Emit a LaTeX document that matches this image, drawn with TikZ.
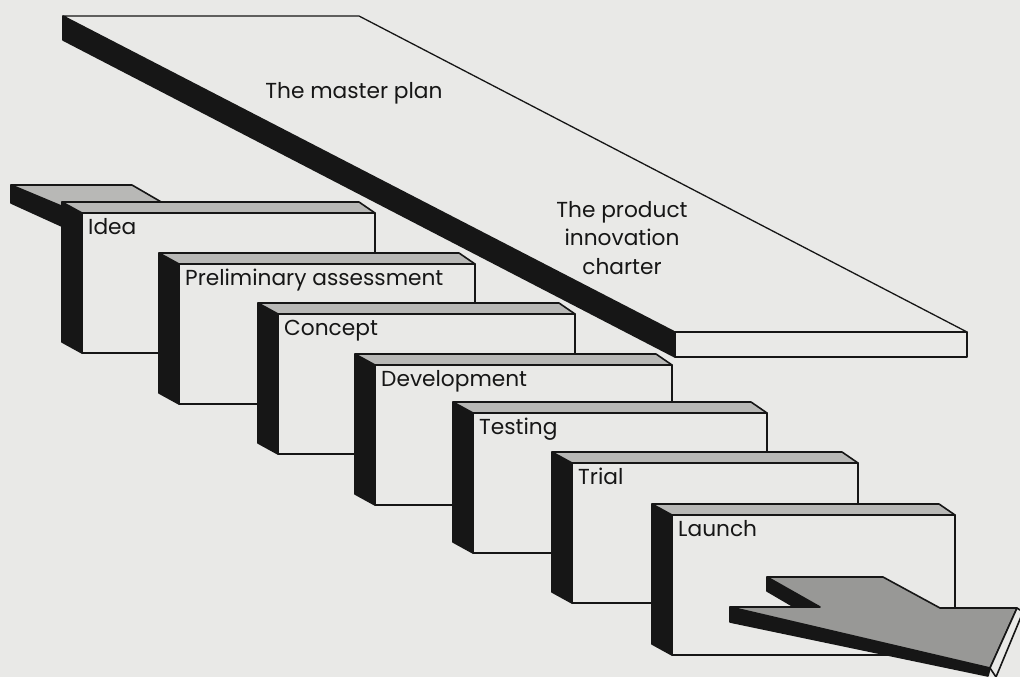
\documentclass[tikz,border=0pt]{standalone}
\usepackage{fontspec}
\setmainfont{Poppins}
\usetikzlibrary{calc}
\definecolor{paper}{RGB}{233,233,231}
\definecolor{ink}{RGB}{22,22,22}
\definecolor{dots}{RGB}{184,184,182}
\definecolor{arrowgray}{RGB}{152,152,150}

\begin{document}
\begin{tikzpicture}[x=1pt,y=-1pt,line join=round,
	outline/.style={draw=ink,line width=1.6pt},
	darkside/.style={outline,fill=ink},
	strip/.style={outline,fill=dots},
	face/.style={outline,fill=paper},
	lbl/.style={font=\fontsize{21.7}{28.5}\selectfont,text=ink,inner sep=0pt}]
	\fill[paper] (0,0) rectangle (1020,677);
	\useasboundingbox (0,0) rectangle (1020,677);
	
	% the master plan board
	\draw[darkside] (63,16) -- (675,332) -- (675,357) -- (63,40) -- cycle;
	\draw[face,line width=1.3pt] (63,16) -- (359,16) -- (967,332) -- (675,332) -- cycle;
	\draw[face] (675,332) rectangle (967,357);
	\node[lbl] (master) at (354,93) {The master plan};
	\node[lbl,align=center] (charter) at (622,238) {The product\\innovation\\charter};
	
	% tail behind the first stage
	\draw[darkside] (11,185) -- (66,208) -- (66,228) -- (11,203) -- cycle;
	\draw[strip] (11,185) -- (132,185) -- (163,203) -- (66,203) -- (66,208) -- cycle;
	
	% the stages, back to front
	\foreach \x/\y/\w/\nm/\txt in {82/213/293/idea/Idea,
		179/264/296/prelim/Preliminary assessment,
		278/314/297/concept/Concept,
		375/365/297/devel/Development,
		473/413/294/testing/Testing,
		572/463/286/trial/Trial,
		672/515/283/launch/Launch}
	{
		\draw[darkside] (\x-20,\y-11) -- (\x,\y) -- (\x,\y+140) -- (\x-20,\y+129) -- cycle;
		\draw[strip] (\x-20,\y-11) -- (\x+\w-16,\y-11) -- (\x+\w,\y) -- (\x,\y) -- cycle;
		\draw[face] (\x,\y) rectangle (\x+\w,\y+140);
		\node[lbl,anchor=base west] (\nm) at (\x+6,\y+21) {\txt};
	}
	
	% the arrow coming out of the launch
	\draw[darkside] (767,577) -- (820,607) -- (820,622) -- (767,591) -- cycle;
	\draw[darkside] (730,607) -- (990,668) -- (988,676) -- (730,622) -- cycle;
	\draw[outline,fill=arrowgray] (730,607) -- (820,607) -- (767,577) -- (883,577)
	-- (940,608) -- (1017,608) -- (990,668) -- cycle;
	\draw[face] (1017,608) -- (1023,612) -- (996,677) -- (990,668) -- cycle;
\end{tikzpicture}
\end{document}
